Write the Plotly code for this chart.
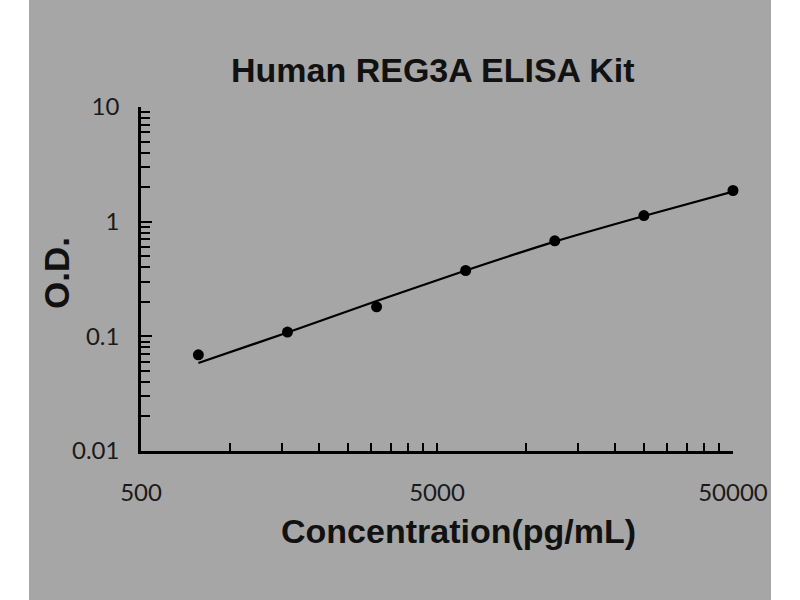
import plotly.graph_objects as go

# Data
concentration = [781.25, 1562.5, 3125, 6250, 12500, 25000, 50000]
od_measured = [0.069, 0.109, 0.181, 0.375, 0.68, 1.13, 1.87]
od_fit = [0.0585, 0.108, 0.203, 0.375, 0.67, 1.12, 1.83]

x_tickvals = [500, 5000, 50000]
x_ticktext = ["500", "5000", "50000"]
x_minor = [1000, 1500, 2000, 2500, 3000, 3500, 4000, 4500,
           10000, 15000, 20000, 25000, 30000, 35000, 40000, 45000]
y_tickvals = [0.01, 0.1, 1, 10]
y_ticktext = ["0.01", "0.1", "1", "10"]
y_minor = [m * d for d in (0.01, 0.1, 1) for m in range(2, 10)]

title_text = "Human REG3A ELISA Kit"
x_title = "Concentration(pg/mL)"
y_title = "O.D."

BG = "#a6a6a6"
TICKFONT = dict(family="Lato, Open Sans, sans-serif", size=24, color="#1a1a1a")
BOLD = "Liberation Sans, Arial, sans-serif"

fig = go.Figure()
fig.add_trace(go.Scatter(
    x=concentration, y=od_fit, mode="lines",
    line=dict(color="black", width=2.2, shape="spline", smoothing=0.6),
    hoverinfo="skip", showlegend=False, cliponaxis=False,
))
fig.add_trace(go.Scatter(
    x=concentration, y=od_measured, mode="markers",
    marker=dict(color="black", size=11),
    showlegend=False, cliponaxis=False,
))

# plot area in pixels: x 141..733, y 107..451
L, R, T, B = 141, 67, 107, 149
W = 800 - L - R
H = 600 - T - B

def px_to_paper_x(px):
    return (px - L) / W

def px_to_paper_y(py):
    return (600 - B - py) / H

fig.add_shape(type="rect", xref="paper", yref="paper",
              x0=px_to_paper_x(29), x1=px_to_paper_x(771),
              y0=px_to_paper_y(605), y1=px_to_paper_y(-5),
              fillcolor=BG, line=dict(width=0), layer="below")

fig.update_layout(
    width=800, height=600,
    margin=dict(l=L, r=R, t=T, b=B),
    paper_bgcolor="white",
    plot_bgcolor=BG,
    showlegend=False,
    xaxis=dict(
        type="log", range=[2.69897, 4.69900],
        tickvals=x_tickvals, ticktext=x_ticktext,
        ticks="inside", ticklen=8, tickwidth=2, tickcolor="black",
        minor=dict(tickvals=x_minor, ticks="inside", ticklen=8, tickwidth=2, tickcolor="black"),
        showline=True, linecolor="black", linewidth=2.5,
        showgrid=False, zeroline=False,
        tickfont=TICKFONT, ticklabelstandoff=18,
    ),
    yaxis=dict(
        type="log", range=[-2, 1],
        tickvals=y_tickvals, ticktext=y_ticktext,
        ticks="inside", ticklen=11, tickwidth=2, tickcolor="black",
        minor=dict(tickvals=y_minor, ticks="inside", ticklen=9, tickwidth=2, tickcolor="black"),
        showline=True, linecolor="black", linewidth=2.5,
        showgrid=False, zeroline=False,
        tickfont=TICKFONT, ticklabelstandoff=14,
    ),
    annotations=[
        dict(text=title_text, xref="paper", yref="paper",
             x=px_to_paper_x(433), y=px_to_paper_y(70),
             xanchor="center", yanchor="middle", showarrow=False,
             font=dict(family=BOLD, size=34, color="#111111", weight="bold")),
        dict(text=x_title, xref="paper", yref="paper",
             x=px_to_paper_x(458), y=px_to_paper_y(531),
             xanchor="center", yanchor="middle", showarrow=False,
             font=dict(family=BOLD, size=34, color="#111111", weight="bold")),
        dict(text=y_title, xref="paper", yref="paper",
             x=px_to_paper_x(56), y=px_to_paper_y(273),
             xanchor="center", yanchor="middle", showarrow=False, textangle=-90,
             font=dict(family=BOLD, size=35, color="#111111", weight="bold")),
    ],
)

fig.write_html("out.html", config={"displayModeBar": False},
               post_script="document.body.style.margin='0';")
